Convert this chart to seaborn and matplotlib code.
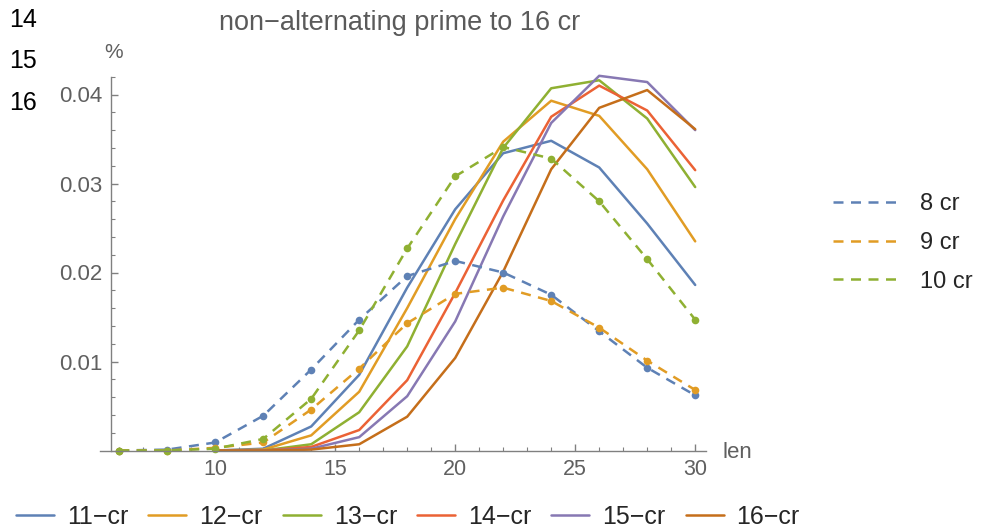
import matplotlib
matplotlib.use("Agg")
import matplotlib.pyplot as plt
from matplotlib.lines import Line2D
from matplotlib.ticker import MultipleLocator, FixedLocator
import numpy as np
import pandas as pd
import seaborn as sns

# crossing-length distributions (fraction of knots per length)
len_dashed = [6, 8, 10, 12, 14, 16, 18, 20, 22, 24, 26, 28, 30]
cr8 = [0, 0.0001, 0.0009, 0.0039, 0.0091, 0.0147, 0.0196, 0.0213, 0.0200, 0.0175, 0.0134, 0.0093, 0.0062]
cr9 = [0, 0, 0.0003, 0.0009, 0.0046, 0.0092, 0.0143, 0.0176, 0.0183, 0.0168, 0.0138, 0.0101, 0.0068]
cr10 = [0, 0, 0.0002, 0.0013, 0.0058, 0.0135, 0.0227, 0.0308, 0.0341, 0.0328, 0.0280, 0.0215, 0.0147]

len_solid = [10, 12, 14, 16, 18, 20, 22, 24, 26, 28, 30]
cr11 = [0, 0.0002, 0.0027, 0.0085, 0.0183, 0.0271, 0.0334, 0.0348, 0.0318, 0.0255, 0.0186]
cr12 = [0, 0.0001, 0.0017, 0.0066, 0.0160, 0.0260, 0.0347, 0.0393, 0.0376, 0.0316, 0.0235]
cr13 = [0, 0, 0.0007, 0.0043, 0.0117, 0.0232, 0.0340, 0.0407, 0.0416, 0.0373, 0.0296]
cr14 = [0, 0, 0.0004, 0.0023, 0.0079, 0.0177, 0.0281, 0.0375, 0.0410, 0.0382, 0.0315]
cr15 = [0, 0, 0.0002, 0.0015, 0.0061, 0.0145, 0.0263, 0.0368, 0.0421, 0.0414, 0.0360]
cr16 = [0, 0, 0.0001, 0.0007, 0.0038, 0.0104, 0.0201, 0.0316, 0.0385, 0.0405, 0.0361]

solid_labels = ["11\u2212cr", "12\u2212cr", "13\u2212cr", "14\u2212cr", "15\u2212cr", "16\u2212cr"]
dashed_labels = ["8 cr", "9 cr", "10 cr"]
side_labels = ["14", "15", "16"]
title = "non\u2212alternating prime to 16 cr"

colors = ["#5E81B5", "#E19C24", "#8FB032", "#EB6235", "#8778B3", "#C56E1A"]

sns.set_theme(style="white")
plt.rcParams["font.family"] = ["Liberation Sans", "DejaVu Sans"]

fig = plt.figure(figsize=(9.96, 5.31), dpi=100)
ax = fig.add_axes([100 / 996, 1 - 450.5 / 531, (706 - 100) / 996, (450.5 - 76.7) / 531])

grey = "#808080"
label_grey = "#606060"
lw = 1.8
dash = (4, 3)

solid_df = pd.DataFrame({"len": len_solid * 6,
                         "frac": cr11 + cr12 + cr13 + cr14 + cr15 + cr16,
                         "series": sum([[s] * len(len_solid) for s in solid_labels], [])})
sns.lineplot(data=solid_df, x="len", y="frac", hue="series", hue_order=solid_labels,
             palette=colors, linewidth=lw, legend=False, ax=ax)

dashed_df = pd.DataFrame({"len": len_dashed * 3,
                          "frac": cr8 + cr9 + cr10,
                          "series": sum([[s] * len(len_dashed) for s in dashed_labels], [])})
sns.lineplot(data=dashed_df, x="len", y="frac", hue="series", hue_order=dashed_labels,
             palette=colors[:3], linewidth=lw, legend=False, ax=ax,
             marker="o", markersize=5.5, markeredgewidth=0)
for ln in ax.lines[6:]:
    ln.set_dashes(dash)
for ln in ax.lines:
    ln.set_clip_on(False)

ax.set_xlim(5.2, 30.45)
ax.set_ylim(0, 0.042)
ax.set_xlabel("")
ax.set_ylabel("")

for side in ["top", "right"]:
    ax.spines[side].set_visible(False)
ax.spines["left"].set_position(("data", 5.66))
for side in ["left", "bottom"]:
    ax.spines[side].set_color(grey)
    ax.spines[side].set_linewidth(1.0)

ax.xaxis.set_major_locator(FixedLocator([10, 15, 20, 25, 30]))
ax.xaxis.set_minor_locator(MultipleLocator(1))
ax.yaxis.set_major_locator(FixedLocator([0.01, 0.02, 0.03, 0.04]))
ax.yaxis.set_minor_locator(MultipleLocator(0.002))
ax.set_yticklabels(["0.01", "0.02", "0.03", "0.04"])
ax.tick_params(axis="both", which="major", direction="in", length=5, width=1.0,
               color=grey, labelcolor=label_grey, labelsize=15.5, pad=6)
ax.tick_params(axis="y", which="major", labelsize=16)
ax.tick_params(axis="both", which="minor", direction="in", length=3, width=0.8, color=grey)
ax.tick_params(left=True, bottom=True, which="both")

fig.text(114 / 996, 1 - 52 / 531, "%", ha="center", va="center", fontsize=15, color=label_grey)
fig.text(722 / 996, 1 - 453 / 531, "len", ha="left", va="center", fontsize=16, color=label_grey)
fig.text(400 / 996, 1 - 23 / 531, title, ha="center", va="center", fontsize=19.5, color="#5a5a5a")

for i, s in enumerate(side_labels):
    fig.text(9 / 996, 1 - (20 + 41.5 * i) / 531, s, ha="left", va="center", fontsize=18, color="black")

solid_handles = [Line2D([], [], color=c, lw=lw) for c in colors]
fig.legend(solid_handles, solid_labels, loc="center left", bbox_to_anchor=(16 / 996, 1 - 517 / 531),
           ncol=6, frameon=False, fontsize=18, handlelength=1.52, handletextpad=0.52,
           columnspacing=0.8, borderaxespad=0, borderpad=0)

dashed_handles = [Line2D([], [], color=c, lw=lw, dashes=dash) for c in colors[:3]]
fig.legend(dashed_handles, dashed_labels, loc="center left", bbox_to_anchor=(833 / 996, 1 - 243 / 531),
           frameon=False, fontsize=17, handlelength=2.95, handletextpad=0.75,
           labelspacing=0.7, borderaxespad=0, borderpad=0)

fig.savefig("out.png", dpi=100)
